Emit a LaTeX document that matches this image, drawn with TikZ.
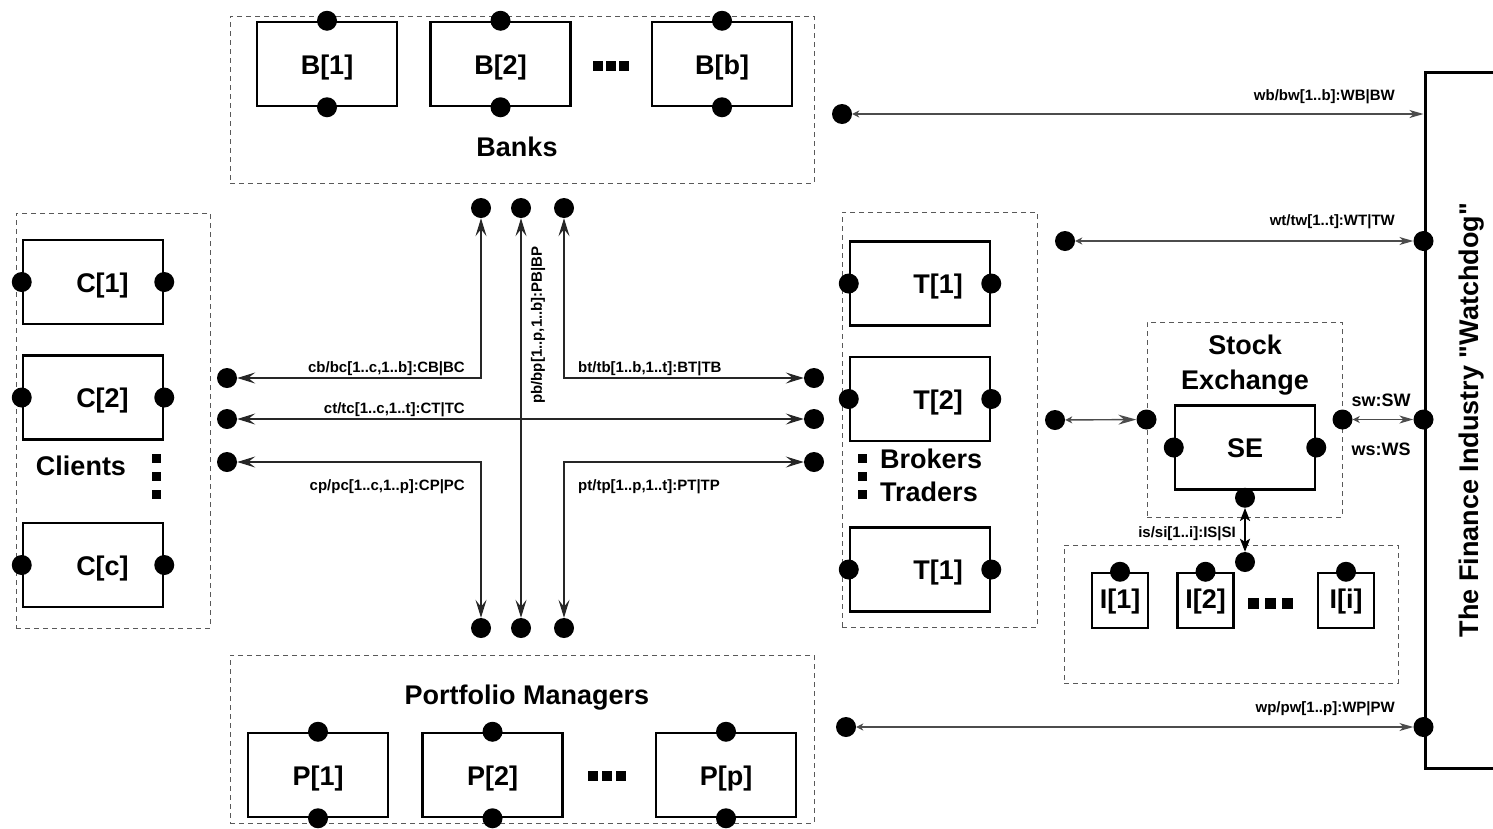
\documentclass[tikz,border=0pt]{standalone}
\usepackage{fontspec}
\setmainfont{Liberation Sans}[Ligatures=TeXOff]
\usepackage{tikz}
\usetikzlibrary{arrows.meta,positioning,calc}
\newcommand{\boxfont}{\fontsize{27}{35}\selectfont\bfseries}
\newcommand{\chanfont}{\fontsize{15}{18}\selectfont\bfseries}
\newcommand{\sefont}{\fontsize{18}{21}\selectfont\bfseries}
\tikzset{
    comp/.style={draw, line width=2.5pt, minimum width=140pt, minimum height=84pt, inner sep=0pt, font=\boxfont, text height=26pt, text depth=6pt},
    ccomp/.style={comp, execute at begin node={\hspace*{19pt}}},
    tcomp/.style={comp, execute at begin node={\hspace*{36pt}}},
    icomp/.style={comp, minimum width=56pt, minimum height=55pt, text height=22pt, text depth=6pt},
    port/.style={circle, fill=black, minimum size=20pt, inner sep=0pt},
    group/.style={draw=black!65, dash pattern=on 5pt off 4pt, line width=1pt, inner sep=0pt},
    dotsq/.style={rectangle, fill=black, minimum size=10pt, inner sep=0pt},
    title/.style={font=\boxfont, align=center, inner sep=0pt},
    chlabel/.style={font=\chanfont, inner sep=0pt},
    chan/.style={{Stealth[length=18pt,width=11pt,inset=7pt]}-{Stealth[length=18pt,width=11pt,inset=7pt]}, line width=1.4pt, black!85},
    wdchan/.style={{Stealth[length=7pt,width=7pt,inset=2pt]}-{Stealth[length=14pt,width=8pt,inset=4pt]}, line width=1.4pt, black!70},
    ischan/.style={{Stealth[length=13pt,width=10pt,inset=3pt]}-{Stealth[length=13pt,width=10pt,inset=3pt]}, line width=2.2pt}
}

\begin{document}
\begin{tikzpicture}[x=1pt, y=-1pt]
    \useasboundingbox (0,0) rectangle (1493,828);

    % Banks
    \node[group, minimum width=584pt, minimum height=167pt] (banks) at (522,99.5) {};
    \node[comp] (b1) at (327,64) {B[1]};
    \node[comp, right=31pt of b1] (b2) {B[2]};
    \node[comp, right=79pt of b2] (bb) {B[b]};
    \foreach \i/\x in {1/598,2/611,3/624} \node[dotsq] (bdot\i) at (\x,66) {};
    \node[title] (bankstitle) at (517,147) {Banks};
    \foreach \n in {b1,b2,bb} {
        \node[port] (\n-t) at (\n.north) {};
        \node[port] (\n-b) at (\n.south) {};
    }

    % Clients
    \node[group, minimum width=194pt, minimum height=415pt] (clients) at (113,420.5) {};
    \node[ccomp] (c1) at (93,282) {C[1]};
    \node[ccomp, below=29pt of c1] (c2) {C[2]};
    \node[ccomp, below=81pt of c2] (cc) {C[c]};
    \node[title] (clientstitle) at (81,466) {Clients};
    \foreach \i/\y in {1/458,2/476,3/494} \node[dotsq, minimum size=9pt] (cdot\i) at (156,\y) {};
    \foreach \n in {c1,c2,cc} {
        \node[port] (\n-l) at (\n.west) {};
        \node[port] (\n-r) at (\n.east) {};
    }

    % Brokers / Traders
    \node[group, minimum width=195pt, minimum height=415pt] (traders) at (939.5,419.5) {};
    \node[tcomp] (t1) at (920,283.5) {T[1]};
    \node[tcomp, below=29pt of t1] (t2) {T[2]};
    \node[tcomp, below=84pt of t2] (tt) {T[1]};
    \foreach \i/\y in {1/458,2/476,3/494} \node[dotsq, minimum size=9pt] (tdot\i) at (862,\y) {};
    \node[title, anchor=west] (brokerstitle) at (880,459) {Brokers};
    \node[title, anchor=west] (traderstitle) at (880,492) {Traders};
    \foreach \n in {t1,t2,tt} {
        \node[port] (\n-l) at (\n.west) {};
        \node[port] (\n-r) at (\n.east) {};
    }

    % Portfolio Managers
    \node[group, minimum width=584pt, minimum height=168pt] (portf) at (522,739) {};
    \node[title] (portftitle) at (527,698) {Portfolio Managers};
    \node[comp] (p1) at (318,775) {P[1]};
    \node[comp, right=32pt of p1] (p2) {P[2]};
    \node[comp, right=91pt of p2] (pp) {P[p]};
    \foreach \i/\x in {1/593,2/607,3/621} \node[dotsq] (pdot\i) at (\x,776) {};
    \foreach \n in {p1,p2,pp} {
        \node[port] (\n-t) at (\n.north) {};
        \node[port] (\n-b) at (\n.south) {};
    }

    % Channels between the four groups
    \node[port] (top1) at (481,208) {};
    \node[port] (top2) at (521,208) {};
    \node[port] (top3) at (564,208) {};
    \node[port] (bot1) at (481,628) {};
    \node[port] (bot2) at (521,628) {};
    \node[port] (bot3) at (564,628) {};
    \node[port] (left1) at (227,378) {};
    \node[port] (left2) at (227,419) {};
    \node[port] (left3) at (227,462) {};
    \node[port] (right1) at (814,378) {};
    \node[port] (right2) at (814,419) {};
    \node[port] (right3) at (814,462) {};
    \draw[chan] (top1) |- (left1);
    \draw[chan] (top3) |- (right1);
    \draw[chan] (left2) -- (right2);
    \draw[chan] (top2) -- (bot2);
    \draw[chan] (left3) -| (bot1);
    \draw[chan] (right3) -| (bot3);
    \node[chlabel, anchor=base east] (cblbl) at (465,372) {cb/bc[1..c,1..b]:CB|BC};
    \node[chlabel, anchor=base east] (ctlbl) at (465,413) {ct/tc[1..c,1..t]:CT|TC};
    \node[chlabel, anchor=base east] (cplbl) at (465,490) {cp/pc[1..c,1..p]:CP|PC};
    \node[chlabel, anchor=base west] (btlbl) at (578,372) {bt/tb[1..b,1..t]:BT|TB};
    \node[chlabel, anchor=base west] (ptlbl) at (578,490) {pt/tp[1..p,1..t]:PT|TP};
    \node[chlabel, rotate=90] (pblbl) at (538,325) {pb/bp[1..p,1..b]:PB|BP};

    % Watchdog
    \node[draw, line width=3pt, rotate=90, minimum width=696pt, minimum height=94pt, inner sep=0pt, font=\boxfont] (wd) at (1472,420) {The Finance Industry "Watchdog"};
    \node[port] (wbdot) at (842,114) {};
    \coordinate (wbend) at (wbdot -| wd.north);
    \draw[wdchan] (wbdot) -- (wbend);
    \node[chlabel, anchor=base east] (wblbl) at (1395,100) {wb/bw[1..b]:WB|BW};
    \node[port] (wtdot) at (1065,241) {};
    \node[port] (wdt) at (wd.north |- wtdot) {};
    \draw[wdchan] (wtdot) -- (wdt);
    \node[chlabel, anchor=base east] (wtlbl) at (1395,225) {wt/tw[1..t]:WT|TW};
    \node[port] (wpdot) at (846,727) {};
    \node[port] (wdp) at (wd.north |- wpdot) {};
    \draw[wdchan] (wpdot) -- (wdp);
    \node[chlabel, anchor=base east] (wplbl) at (1395,712) {wp/pw[1..p]:WP|PW};

    % Stock Exchange
    \node[group, minimum width=195pt, minimum height=195pt] (stockx) at (1244.5,419.5) {};
    \node[title] (stocktitle) at (1245,365) {Stock\\Exchange};
    \node[comp] (se) at (1245,447.5) {SE};
    \node[port] (se-l) at (se.west) {};
    \node[port] (se-r) at (se.east) {};
    \node[port] (se-b) at ([yshift=-7pt]se.south) {};
    \node[port] (sxl) at (stockx.west) {};
    \node[port] (sxr) at (stockx.east) {};
    \node[port] (brkdot) at (1055,420) {};
    \draw[wdchan, {Stealth[length=7pt,width=7pt,inset=2pt]}-{Stealth[length=18pt,width=10pt,inset=6pt]}] (brkdot) -- (sxl);
    \node[port] (wds) at (wd.north |- sxr) {};
    \draw[wdchan] (sxr) -- (wds);
    \node[font=\sefont, inner sep=0pt, anchor=base] (swlbl) at (1381,406) {sw:SW};
    \node[font=\sefont, inner sep=0pt, anchor=base] (wslbl) at (1381,455) {ws:WS};

    % Investors
    \node[group, minimum width=334pt, minimum height=138pt] (invest) at (1231,614) {};
    \node[icomp] (i1) at (1120,600.5) {I[1]};
    \node[icomp, right=27pt of i1] (i2) {I[2]};
    \node[icomp, right=82pt of i2] (ii) {I[i]};
    \foreach \i/\x in {1/1253,2/1270,3/1287} \node[dotsq, minimum size=11pt] (idot\i) at (\x,603) {};
    \foreach \n in {i1,i2,ii} \node[port] (\n-t) at (\n.north) {};
    \node[port] (isdot) at (1245,562) {};
    \draw[ischan] (se-b) -- (isdot);
    \node[chlabel, anchor=base east] (islbl) at (1236,537) {is/si[1..i]:IS|SI};
\end{tikzpicture}
\end{document}
